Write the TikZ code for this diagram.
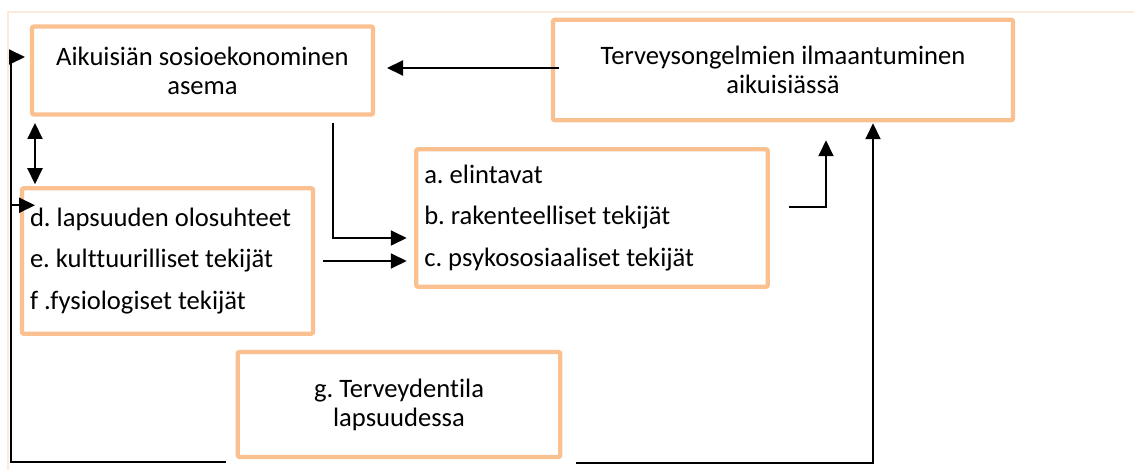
\documentclass[tikz,border=0pt]{standalone}
\usepackage{fontspec}
\setmainfont{Carlito}[RawFeature=-liga]
\usetikzlibrary{arrows.meta,calc}
\definecolor{boxorange}{RGB}{250,192,144}
\definecolor{framepeach}{RGB}{253,234,218}
\begin{document}
\frenchspacing
\begin{tikzpicture}[x=0.5pt,y=-0.5pt,
  box/.style={draw=boxorange, line width=2.2pt, rounded corners=1pt, outer sep=0pt, inner sep=0pt, fill=white},
  ctext/.style={align=center, font=\fontsize{13.3}{14.5}\selectfont\frenchspacing},
  ltext/.style={align=flush left, font=\fontsize{13.3}{20.6}\selectfont\frenchspacing},
  conn/.style={line width=1pt, draw=black},
  arr/.style={conn, -{Triangle[length=8pt,width=7.5pt]}},
  darr/.style={conn, {Triangle[length=8pt,width=7.5pt]}-{Triangle[length=8pt,width=7.5pt]}}]
\useasboundingbox (0,0) rectangle (1134,470);
% faint frame
\draw[framepeach, line width=1pt] (8,470) -- (8,12) -- (1134,12);

% boxes
\node[box, ctext, minimum width=170.5pt, minimum height=44pt] (A) at (202.5,70.5)
  {Aikuisiän sosioekonominen\\asema};
\node[box, ctext, minimum width=230pt, minimum height=50.25pt] (T) at (783,70)
  {Terveysongelmien ilmaantuminen\\aikuisiässä};
\node[box, ltext, minimum width=175.75pt, minimum height=68.75pt, text width=167.75pt] (ABC) at (592,218)
  {a. elintavat\\b. rakenteelliset tekijät\\c. psykososiaaliset tekijät};
\node[box, ltext, minimum width=145.5pt, minimum height=72.75pt, text width=137.5pt] (DEF) at (167.5,261)
  {d. lapsuuden olosuhteet\\e. kulttuurilliset tekijät\\f .fysiologiset tekijät};
\node[box, ctext, minimum width=161.25pt, minimum height=52.5pt] (G) at (399,404.5)
  {g. Terveydentila\\lapsuudessa};

% connectors
\draw[arr] ($(T.west)+(6,-2)$) -- ($(A.east)+(14,-2.5)$);
\draw[darr] ($(A.south west)+(3,8.5)$) -- ($(DEF.north west)+(13,-4)$);
\draw[arr] ($(A.south east)+(-40,8.5)$) |- ($(ABC.west)+(-9.5,20)$);
\draw[arr] ($(DEF.east)+(10,0)$) -- ($(DEF.east -| ABC.west)+(-9.5,0)$);
\draw[arr] ($(ABC.east)+(21,-11)$) -| ($(T.south)+(43,20)$);
\draw[arr] ($(G.south west)+(-12,4.5)$) -| ($(A.west)+(-21,-13.5)$) -- ($(A.west)+(-7,-13.5)$);
\draw[arr] ($(DEF.west)+(-11,-55.75)$) -- ($(DEF.west)+(13,-55.75)$);
\draw[arr] ($(G.south east)+(16,5.5)$) -| ($(T.south)+(90,3)$);
\end{tikzpicture}
\end{document}
